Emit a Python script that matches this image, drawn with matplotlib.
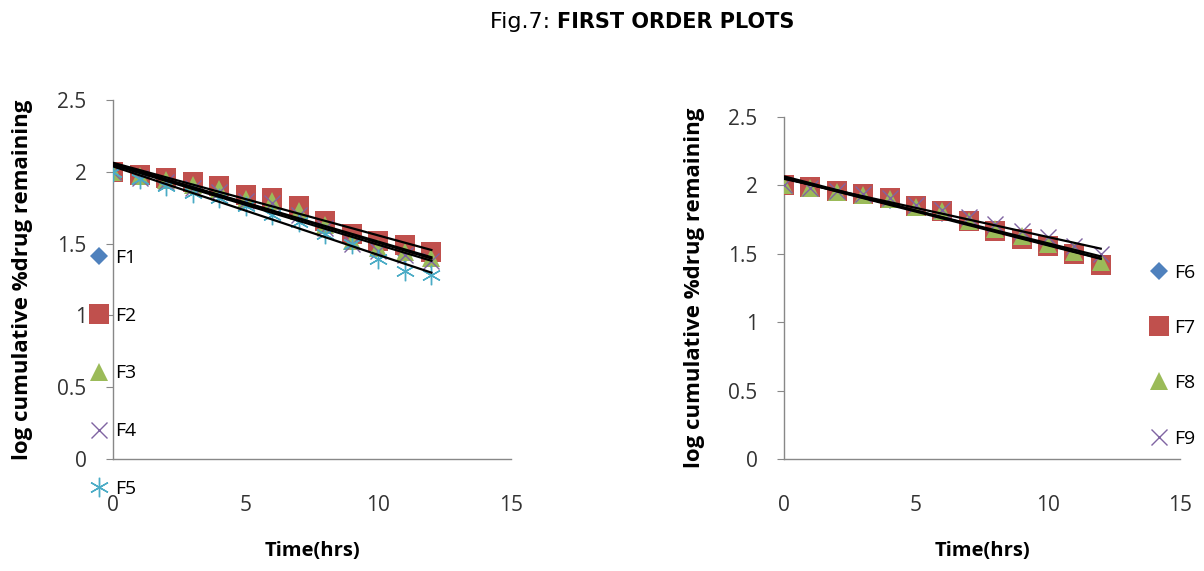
import numpy as np
import matplotlib
matplotlib.use("Agg")
import matplotlib.pyplot as plt

time_hrs = list(range(13))

# Left panel (F1-F5): log cumulative % drug remaining
F1 = [2.00, 1.97, 1.94, 1.91, 1.87, 1.81, 1.79, 1.72, 1.62, 1.52, 1.47, 1.43, 1.39]
F2 = [2.00, 1.98, 1.96, 1.93, 1.90, 1.84, 1.82, 1.76, 1.66, 1.57, 1.52, 1.49, 1.44]
F3 = [2.00, 1.97, 1.94, 1.91, 1.88, 1.81, 1.80, 1.73, 1.63, 1.52, 1.47, 1.44, 1.40]
F4 = [2.00, 1.96, 1.93, 1.89, 1.86, 1.80, 1.78, 1.70, 1.61, 1.50, 1.45, 1.42, 1.38]
F5 = [2.00, 1.95, 1.90, 1.85, 1.82, 1.76, 1.70, 1.65, 1.57, 1.50, 1.39, 1.31, 1.28]

# Right panel (F6-F9)
F6 = [2.00, 1.98, 1.95, 1.93, 1.89, 1.84, 1.80, 1.73, 1.66, 1.61, 1.56, 1.50, 1.42]
F7 = [2.00, 1.99, 1.96, 1.94, 1.91, 1.85, 1.81, 1.74, 1.67, 1.61, 1.56, 1.50, 1.42]
F8 = [2.00, 1.98, 1.95, 1.93, 1.90, 1.84, 1.81, 1.74, 1.68, 1.63, 1.57, 1.51, 1.44]
F9 = [2.00, 1.98, 1.96, 1.94, 1.91, 1.86, 1.82, 1.77, 1.72, 1.67, 1.62, 1.56, 1.50]

x_ticks = [0, 5, 10, 15]
y_ticks = [0, 0.5, 1, 1.5, 2, 2.5]
y_tick_labels = ["0", "0.5", "1", "1.5", "2", "2.5"]

colors = {"blue": "#4F81BD", "red": "#C0504D", "green": "#9BBB59",
          "purple": "#8064A2", "cyan": "#4BACC6"}

styles = [
    dict(marker="D", color=colors["blue"], ms=9),
    dict(marker="s", color=colors["red"], ms=14),
    dict(marker="^", color=colors["green"], ms=13),
    dict(marker="x", color=colors["purple"], ms=12, mew=1.0),
    dict(marker=(6, 2, 0), color=colors["cyan"], ms=14, mew=1.0),
]

fig = plt.figure(figsize=(12.04, 5.71), dpi=100)
fig.patch.set_facecolor("white")

fig.text(0.4626, 0.962, "Fig.7: ", ha="right", va="center", fontsize=16,
         family="DejaVu Sans")
fig.text(0.4626, 0.962, "FIRST ORDER PLOTS", ha="left", va="center",
         fontsize=15, family="DejaVu Sans", fontweight="bold")


def panel(rect, top_px, series, names, legend_anchor, spacing):
    ax = fig.add_axes(rect)
    handles = []
    t = np.array(time_hrs, dtype=float)
    for s, name, st in zip(series, names, styles):
        mew = st.get("mew", 0.0)
        h, = ax.plot(t, s, linestyle="none", marker=st["marker"],
                     color=st["color"], markersize=st["ms"],
                     markeredgewidth=mew, label=name, zorder=3)
        handles.append(h)
    for s in series:
        k, b = np.polyfit(t, s, 1)
        ax.plot([0, 12], [b, b + 12 * k], color="black", lw=1.6, zorder=4)
    ax.set_xlim(0, 15)
    ax.set_ylim(0, 2.5)
    ax.set_xticks(x_ticks)
    ax.set_yticks(y_ticks)
    ax.set_yticklabels(y_tick_labels)
    for sp in ["top", "right"]:
        ax.spines[sp].set_visible(False)
    for sp in ["left", "bottom"]:
        ax.spines[sp].set_color("#888888")
        ax.spines[sp].set_linewidth(1.0)
    ax.tick_params(axis="y", direction="out", length=5, color="#888888",
                   labelsize=15, pad=14, labelcolor="#333333")
    ax.tick_params(axis="x", direction="out", length=0, color="#888888",
                   labelsize=15, pad=26, labelcolor="#333333")
    for lab in ax.get_xticklabels() + ax.get_yticklabels():
        lab.set_family("Open Sans")
    ax.set_xlabel("Time(hrs)", fontsize=14.5, fontweight="bold",
                  family="Open Sans")
    ax.xaxis.set_label_coords(0.5, (459 - 541) / (459 - top_px))
    ax.set_ylabel("log cumulative %drug remaining", fontsize=16,
                  fontweight="bold", family="Open Sans")
    ax.yaxis.set_label_coords(-0.20, 0.5)
    leg = ax.legend(handles=handles, loc="upper left",
                    bbox_to_anchor=legend_anchor, bbox_transform=fig.transFigure,
                    frameon=False, labelspacing=spacing,
                    handlelength=1.0, handletextpad=0.3, borderaxespad=0,
                    prop={"family": "Open Sans", "size": 14})
    leg.set_zorder(5)
    return ax


ax1 = panel([0.0939, 0.1961, 0.3305, 0.6288], 100, [F1, F2, F3, F4, F5],
            ["F1", "F2", "F3", "F4", "F5"], (0.068, 0.578), 2.05)
ax2 = panel([0.6512, 0.1961, 0.3288, 0.5989], 117, [F6, F7, F8, F9],
            ["F6", "F7", "F8", "F9"], (0.948, 0.552), 1.92)

fig.savefig("out.png", dpi=100, facecolor="white")
